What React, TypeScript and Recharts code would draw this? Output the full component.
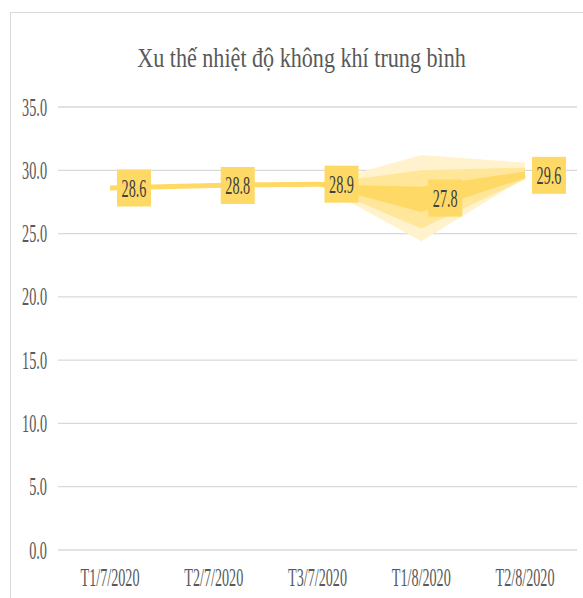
import { ComposedChart, Line, Area, XAxis, YAxis, CartesianGrid, LabelList } from 'recharts'

// ---- data ----
const categories = ['T1/7/2020', 'T2/7/2020', 'T3/7/2020', 'T1/8/2020', 'T2/8/2020']
const temperatures = [28.6, 28.8, 28.9, 27.8, 29.6]
const yTicks = [0, 5, 10, 15, 20, 25, 30, 35]

// soft glow around the last two segments (as in the source picture)
const glowOuterLow = [null, null, 28.9, 24.4, 29.4]
const glowOuterHigh = [null, null, 28.9, 31.2, 30.6]
const glowMidLow = [null, null, 28.9, 25.4, 29.3]
const glowMidHigh = [null, null, 28.9, 30.0, 30.2]
const glowCoreLow = [null, null, 28.9, 26.7, 29.4]
const glowCoreHigh = [null, null, 28.9, 28.7, 29.9]

const FONT = '"Liberation Serif", "Times New Roman", serif'
const GOLD = '#FFD966'
const TEXT = '#595959'

const range = (lo: (number | null)[], hi: (number | null)[], i: number) =>
  lo[i] == null || hi[i] == null ? null : [lo[i], hi[i]]

const data = categories.map((name, i) => ({
  name,
  temp: temperatures[i],
  outer: range(glowOuterLow, glowOuterHigh, i),
  mid: range(glowMidLow, glowMidHigh, i),
  core: range(glowCoreLow, glowCoreHigh, i),
}))

function YTick(props: any) {
  const { x, y, payload } = props
  return (
    <g transform={`translate(${x},${y + 8.5})`}>
      <text transform="scale(0.57,1)" textAnchor="end" fontFamily={FONT} fontSize={25} fill={TEXT}>
        {Number(payload.value).toFixed(1)}
      </text>
    </g>
  )
}

function XTick(props: any) {
  const { x, y, payload } = props
  return (
    <g transform={`translate(${x},${y + 28})`}>
      <text transform="scale(0.545,1)" textAnchor="middle" fontFamily={FONT} fontSize={26} fill={TEXT}>
        {payload.value}
      </text>
    </g>
  )
}

function ValueBox(props: any) {
  const { x, y, value } = props
  if (x == null || y == null) return null
  const w = 34
  const h = 37
  return (
    <g>
      <rect x={x + 7} y={y - h / 2} width={w} height={h} fill={GOLD} />
      <g transform={`translate(${x + 7 + w / 2},${y + 8.5})`}>
        <text transform="scale(0.57,1)" textAnchor="middle" fontFamily={FONT} fontSize={25} fill="#404040">
          {Number(value).toFixed(1)}
        </text>
      </g>
    </g>
  )
}

export default function App() {
  return (
    <div
      style={{
        position: 'absolute',
        left: 0,
        top: 0,
        width: 583,
        height: 598,
        overflow: 'hidden',
        background: '#fff',
      }}
    >
      <div
        style={{
          position: 'absolute',
          left: 10,
          top: 12,
          width: 620,
          height: 620,
          border: '1px solid #d9d9d9',
        }}
      />
      <svg width={583} height={90} style={{ position: 'absolute', left: 0, top: 0 }}>
        <g transform="translate(301.5,67)">
          <text transform="scale(0.79,1)" textAnchor="middle" fontFamily={FONT} fontSize={28} fill={TEXT}>
            Xu thế nhiệt độ không khí trung bình
          </text>
        </g>
      </svg>
      <div style={{ position: 'absolute', left: 0, top: 0 }}>
        <ComposedChart
          width={583}
          height={598}
          data={data}
          margin={{ top: 107, right: 6, left: 0, bottom: 8 }}
        >
          <CartesianGrid vertical={false} stroke="#d9d9d9" strokeWidth={1.3} />
          <XAxis
            dataKey="name"
            axisLine={false}
            tickLine={false}
            tickMargin={2}
            height={40}
            tick={<XTick />}
            interval={0}
            padding={{ left: 52, right: 52 }}
          />
          <YAxis
            domain={[0, 35]}
            ticks={yTicks}
            axisLine={false}
            tickLine={false}
            tickMargin={5}
            width={58}
            tick={<YTick />}
          />
          <Area dataKey="outer" type="linear" fill="#FFF2CC" fillOpacity={1} stroke="none" isAnimationActive={false} activeDot={false} />
          <Area dataKey="mid" type="linear" fill="#FFE699" fillOpacity={1} stroke="none" isAnimationActive={false} activeDot={false} />
          <Area dataKey="core" type="linear" fill={GOLD} fillOpacity={1} stroke="none" isAnimationActive={false} activeDot={false} />
          <Line
            dataKey="temp"
            type="monotone"
            stroke={GOLD}
            strokeWidth={5}
            dot={false}
            activeDot={false}
            isAnimationActive={false}
          >
            <LabelList dataKey="temp" content={<ValueBox />} />
          </Line>
        </ComposedChart>
      </div>
    </div>
  )
}
